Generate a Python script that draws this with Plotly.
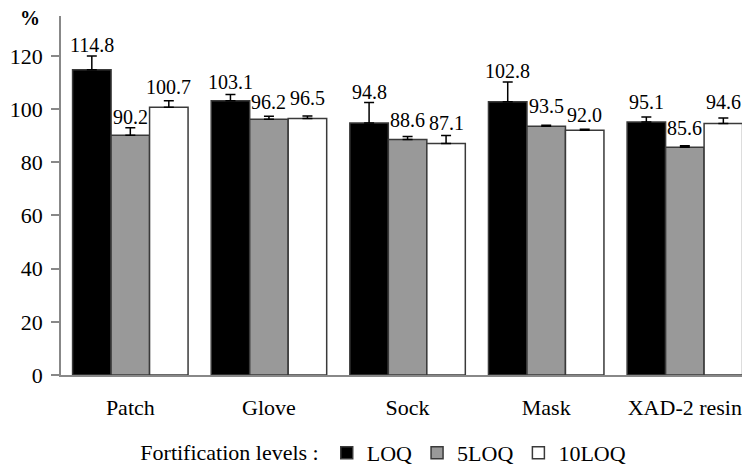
import plotly.graph_objects as go

categories = ["Patch", "Glove", "Sock", "Mask", "XAD-2 resin"]
series_names = ["LOQ", "5LOQ", "10LOQ"]
loq = [114.8, 103.1, 94.8, 102.8, 95.1]
loq5 = [90.2, 96.2, 88.6, 93.5, 85.6]
loq10 = [100.7, 96.5, 87.1, 92.0, 94.6]
err_loq = [5.2, 2.4, 7.7, 7.4, 1.9]
err_loq5 = [2.8, 1.1, 1.1, 0.4, 0.6]
err_loq10 = [2.4, 0.9, 3.0, 0.4, 2.0]
y_ticks = [0, 20, 40, 60, 80, 100, 120]

values = [loq, loq5, loq10]
errors = [err_loq, err_loq5, err_loq10]
fills = ["#000000", "#999999", "#ffffff"]
label_lift = [[25, 19, 31, 31, 20], [18, 17, 19, 20, 19], [20, 20, 20, 15, 21]]

FONT = "Times New Roman"
BARGAP = 0.167

fig = go.Figure()
for name, vals, errs, col in zip(series_names, values, errors, fills):
    fig.add_trace(go.Bar(
        name=name, x=categories, y=vals,
        marker=dict(color=col, line=dict(color="#3a3a3a", width=1.5)),
        error_y=dict(type="data", symmetric=False, array=errs,
                     arrayminus=[0] * len(errs), color="#000000",
                     thickness=1.5, width=5),
    ))

bw = (1 - BARGAP) / 3
annotations = []
for s, vals in enumerate(values):
    for i, v in enumerate(vals):
        annotations.append(dict(
            x=i + (s - 1) * bw, y=v, xref="x", yref="y",
            text=f"{v:.1f}", showarrow=False, yshift=label_lift[s][i],
            font=dict(family=FONT, size=20, color="#000"),
            xanchor="center", yanchor="middle"))
annotations.append(dict(
    x=(30 - 61) / 689, y=(375 - 18) / 359, xref="paper", yref="paper",
    text="<b>%</b>", showarrow=False, xanchor="center", yanchor="middle",
    font=dict(family=FONT, size=20, color="#000")))

fig.update_layout(
    width=742, height=459,
    margin=dict(l=53, r=0, t=8, b=92, autoexpand=False),
    paper_bgcolor="white", plot_bgcolor="white",
    barmode="group", bargap=BARGAP, bargroupgap=0,
    font=dict(family=FONT, size=22, color="#000"),
    showlegend=True,
    legend=dict(
        orientation="h", x=0.470, y=-0.217, xanchor="center", yanchor="middle",
        title=dict(text="Fortification levels :", side="left",
                   font=dict(family=FONT, size=22)),
        font=dict(family=FONT, size=22), itemwidth=30,
        traceorder="normal",
    ),
    annotations=annotations,
)
fig.update_xaxes(
    range=[-0.5, 4.47], showline=True, linecolor="#888888", linewidth=1.5,
    ticks="", showgrid=False, ticklabelstandoff=12, automargin=False,
    tickfont=dict(family=FONT, size=22, color="#000"),
)
fig.update_yaxes(
    range=[0, 135], tickvals=y_ticks, showline=True, linecolor="#888888",
    linewidth=1.5, ticks="outside", ticklen=8, tickcolor="#888888",
    tickwidth=1.5, showgrid=False, zeroline=False, ticklabelstandoff=4,
    automargin=False,
    tickfont=dict(family=FONT, size=22, color="#000"),
)

fig.write_html("out.html")
